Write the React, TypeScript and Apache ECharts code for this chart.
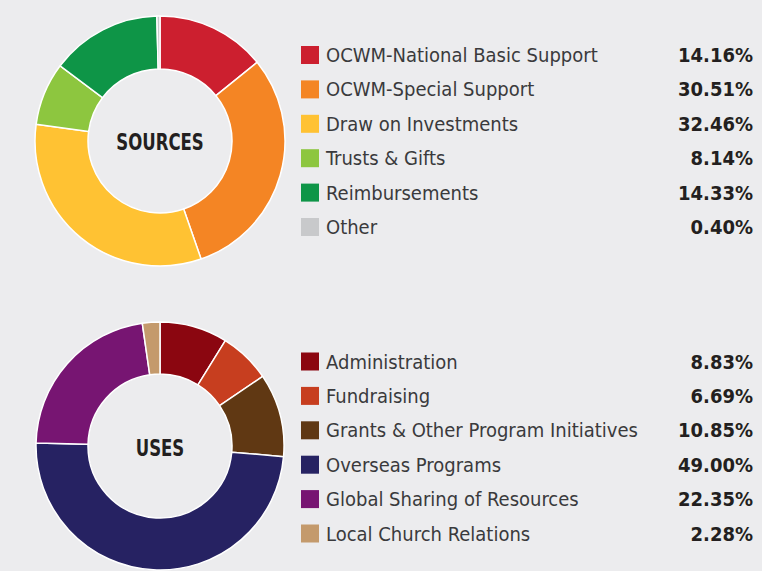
import React, { useEffect, useRef } from "react";
import * as echarts from "echarts";

const sourceNames = [
  "OCWM-National Basic Support",
  "OCWM-Special Support",
  "Draw on Investments",
  "Trusts & Gifts",
  "Reimbursements",
  "Other",
];
const sourceValues = [14.16, 30.51, 32.46, 8.14, 14.33, 0.4];
const sourceColors = ["#CC1F2F", "#F48524", "#FFC233", "#8DC63F", "#0E9547", "#C8C9CB"];

const useNames = [
  "Administration",
  "Fundraising",
  "Grants & Other Program Initiatives",
  "Overseas Programs",
  "Global Sharing of Resources",
  "Local Church Relations",
];
const useValues = [8.83, 6.69, 10.85, 49.0, 22.35, 2.28];
const useColors = ["#8B0610", "#C73E1F", "#603813", "#262262", "#771572", "#C49A6C"];

const FONT = "'Liberation Sans Narrow', 'DejaVu Sans Condensed', Roboto, sans-serif";

export default function App() {
  const ref = useRef<HTMLDivElement>(null);
  useEffect(() => {
    const chart = echarts.init(ref.current!, null, { renderer: "svg" });
    const valueMap: Record<string, number> = {};
    sourceNames.forEach((n, i) => (valueMap[n] = sourceValues[i]));
    useNames.forEach((n, i) => (valueMap[n] = useValues[i]));

    const legendBase = (names: string[], top: number) => ({
      orient: "vertical",
      left: 301,
      top,
      padding: 0,
      itemWidth: 18,
      itemHeight: 18,
      itemGap: 14.4,
      icon: "rect",
      selectedMode: false,
      itemStyle: { borderWidth: 0 },
      data: names,
      formatter: (name: string) => `{n|${name}}{v|${valueMap[name].toFixed(2)}%}`,
      textStyle: {
        fontFamily: FONT,
        fontSize: 20,
        lineHeight: 18,
        height: 18,
        padding: [0, 0, 0, 2],
        rich: {
          n: { width: 341, fontSize: 20, color: "#3a3a3c", fontFamily: FONT, lineHeight: 18, height: 18 },
          v: {
            width: 86,
            align: "right",
            fontSize: 20,
            fontWeight: "bold",
            color: "#231f20",
            fontFamily: FONT,
            lineHeight: 18,
            height: 18,
          },
        },
      },
    });

    const pie = (names: string[], values: number[], colors: string[], center: number[], r: number[]) => ({
      type: "pie",
      center,
      radius: r,
      startAngle: 90,
      clockwise: true,
      label: { show: false },
      labelLine: { show: false },
      emphasis: { disabled: true },
      itemStyle: { borderColor: "#ffffff", borderWidth: 1.5 },
      data: names.map((n, i) => ({ name: n, value: values[i], itemStyle: { color: colors[i] } })),
    });

    const centerText = (text: string, x: number, y: number) => ({
      type: "text",
      x,
      y,
      scaleX: 0.8,
      style: {
        text,
        fontFamily: FONT,
        fontSize: 23,
        fontWeight: "bold",
        fill: "#231f20",
        textAlign: "center",
        textVerticalAlign: "middle",
      },
    });

    chart.setOption({
      animation: false,
      backgroundColor: "#ECECEE",
      legend: [legendBase(sourceNames, 45), legendBase(useNames, 351.5)],
      graphic: [centerText("SOURCES", 160, 142), centerText("USES", 160, 448)],
      series: [
        pie(sourceNames, sourceValues, sourceColors, [160, 141], [72, 125]),
        pie(useNames, useValues, useColors, [160, 446], [72, 124]),
      ],
    });
    return () => chart.dispose();
  }, []);
  return (
    <div
      ref={ref}
      style={{ position: "fixed", left: 0, top: 0, width: 762, height: 571 }}
    />
  );
}
